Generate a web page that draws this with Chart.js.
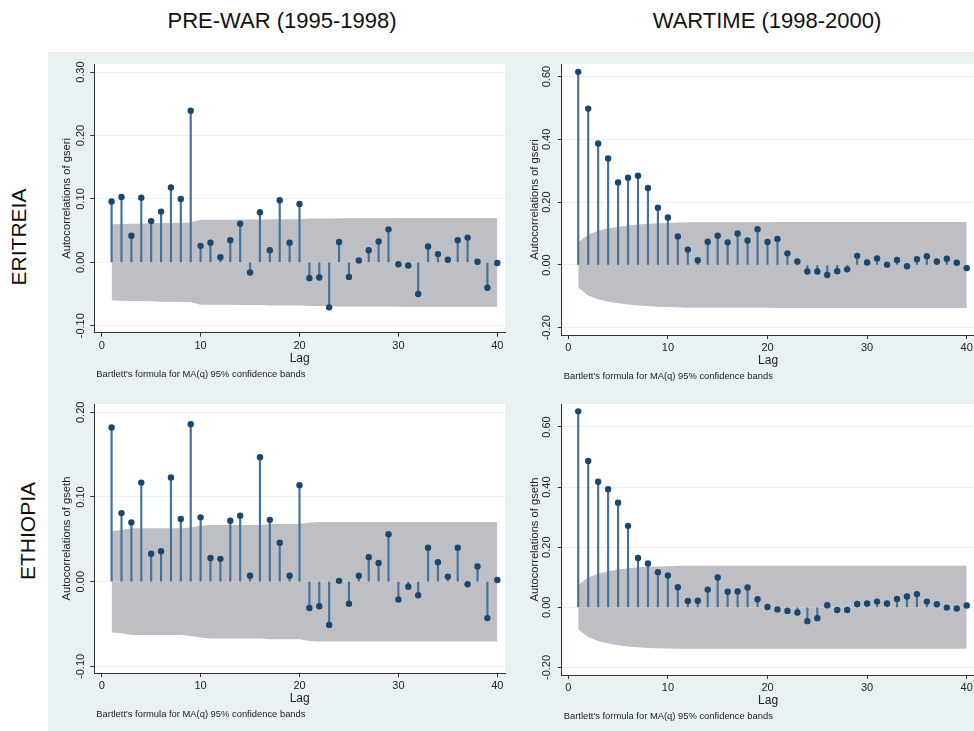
<!DOCTYPE html>
<html>
<head>
<meta charset="utf-8">
<script src="https://cdn.jsdelivr.net/npm/chart.js@4.4.0/dist/chart.umd.min.js"></script>
<style>
html, body { margin: 0; padding: 0; background: #fff; overflow: hidden; width: 974px; height: 731px; }
body { position: relative; font-family: "Liberation Sans", Arial, sans-serif; }
#bg { position: absolute; left: 48px; top: 52px; width: 926px; height: 679px; background: #e9f1f2; }
canvas { position: absolute; }
.coltitle { position: absolute; top: 10px; font-size: 22px; line-height: 22px; color: #111; white-space: nowrap; transform: translateX(-50%); }
.rowlabel { position: absolute; font-size: 21px; line-height: 21px; color: #111; white-space: nowrap; transform: translate(-50%, -50%) rotate(-90deg); }
</style>
</head>
<body>
<div id="bg"></div>
<div class="coltitle" style="left:282px">PRE-WAR (1995-1998)</div>
<div class="coltitle" style="left:767px">WARTIME (1998-2000)</div>
<div class="rowlabel" style="left:18px;top:237px">ERITREIA</div>
<div class="rowlabel" style="left:27px;top:531px">ETHIOPIA</div>
<canvas id="eriPre" width="462" height="338" style="left:48px;top:52px"></canvas>
<canvas id="eriWar" width="490" height="338" style="left:510px;top:52px"></canvas>
<canvas id="ethPre" width="462" height="341" style="left:48px;top:390px"></canvas>
<canvas id="ethWar" width="490" height="341" style="left:510px;top:390px"></canvas>
<script>
// lags 1..40
const lags = [1,2,3,4,5,6,7,8,9,10,11,12,13,14,15,16,17,18,19,20,
              21,22,23,24,25,26,27,28,29,30,31,32,33,34,35,36,37,38,39,40];

// autocorrelations
const acfEritreaPre = [0.096,0.103,0.042,0.102,0.065,0.080,0.118,0.100,0.239,0.026,
                       0.031,0.008,0.035,0.061,-0.016,0.079,0.019,0.098,0.031,0.092,
                       -0.025,-0.024,-0.071,0.032,-0.023,0.003,0.019,0.033,0.052,-0.003,
                       -0.005,-0.050,0.025,0.013,0.004,0.035,0.039,0.001,-0.040,-0.001];
const acfEritreaWar = [0.615,0.498,0.387,0.339,0.263,0.278,0.284,0.245,0.182,0.151,
                       0.091,0.049,0.015,0.074,0.093,0.072,0.100,0.078,0.114,0.073,
                       0.083,0.037,0.011,-0.021,-0.021,-0.032,-0.020,-0.014,0.029,0.008,
                       0.021,0.001,0.016,-0.004,0.018,0.028,0.011,0.020,0.007,-0.010];
const acfEthiopiaPre = [0.182,0.081,0.070,0.117,0.033,0.036,0.123,0.074,0.186,0.076,
                        0.028,0.027,0.072,0.078,0.007,0.147,0.073,0.046,0.007,0.114,
                        -0.031,-0.029,-0.051,0.001,-0.026,0.007,0.029,0.022,0.056,-0.021,
                        -0.006,-0.016,0.040,0.023,0.006,0.040,-0.003,0.018,-0.043,0.002];
const acfEthiopiaWar = [0.652,0.487,0.418,0.393,0.348,0.271,0.164,0.146,0.117,0.106,
                        0.067,0.021,0.022,0.059,0.099,0.052,0.053,0.066,0.027,0.001,
                        -0.007,-0.012,-0.017,-0.046,-0.036,0.007,-0.009,-0.009,0.011,0.013,
                        0.019,0.013,0.028,0.036,0.044,0.019,0.010,-0.001,-0.004,0.006];

// half-width of the 95% band (symmetric around zero)
const bandEritreaPre = [0.060,0.0605,0.061,0.061,0.0615,0.062,0.062,0.0625,0.063,0.067,
                        0.067,0.067,0.067,0.0675,0.0675,0.0675,0.068,0.068,0.068,0.068,
                        0.069,0.069,0.069,0.0695,0.0695,0.0695,0.0695,0.0695,0.0695,0.070,
                        0.070,0.070,0.070,0.070,0.070,0.070,0.070,0.070,0.070,0.070];
const bandEritreaWar = [0.072,0.097,0.109,0.117,0.122,0.126,0.129,0.131,0.133,0.134,
                        0.135,0.136,0.136,0.136,0.136,0.136,0.136,0.136,0.136,0.136,
                        0.137,0.137,0.137,0.137,0.137,0.137,0.137,0.137,0.137,0.137,
                        0.137,0.137,0.137,0.137,0.137,0.137,0.137,0.137,0.137,0.137];
const bandEthiopiaPre = [0.060,0.061,0.063,0.063,0.063,0.063,0.063,0.063,0.064,0.066,
                         0.067,0.067,0.067,0.067,0.067,0.067,0.068,0.068,0.068,0.068,
                         0.070,0.0705,0.0705,0.0705,0.0705,0.0705,0.0705,0.0705,0.0705,0.0705,
                         0.0705,0.0705,0.0705,0.0705,0.0705,0.0705,0.0705,0.0705,0.0705,0.0705];
const bandEthiopiaWar = [0.074,0.099,0.112,0.120,0.126,0.130,0.133,0.135,0.136,0.137,
                         0.138,0.138,0.138,0.138,0.138,0.138,0.138,0.138,0.138,0.138,
                         0.138,0.138,0.138,0.138,0.138,0.138,0.138,0.138,0.138,0.138,
                         0.138,0.138,0.138,0.138,0.138,0.138,0.138,0.138,0.138,0.138];

const lagTicks = [0, 10, 20, 30, 40];
const yTicksEritreaPre = [-0.1, 0, 0.1, 0.2, 0.3];
const yLabelsEritreaPre = ['-0.10', '0.00', '0.10', '0.20', '0.30'];
const yTicksEthiopiaPre = [-0.1, 0, 0.1, 0.2];
const yLabelsEthiopiaPre = ['-0.10', '0.00', '0.10', '0.20'];
const yTicksWar = [-0.2, 0, 0.2, 0.4, 0.6];
const yLabelsWar = ['-0.20', '0.00', '0.20', '0.40', '0.60'];

const noteText = "Bartlett's formula for MA(q) 95% confidence bands";
const FONT = '"Liberation Sans", Arial, sans-serif';

// background, white plot region, rotated y labels and the note
const stataDecor = {
    id: 'stataDecor',
    beforeDraw(chart) {
        const {ctx, chartArea: a, width, height} = chart;
        ctx.save();
        ctx.fillStyle = '#e9f1f2';
        ctx.fillRect(0, 0, width, height);
        ctx.fillStyle = '#ffffff';
        ctx.fillRect(a.left, a.top, a.right - a.left, a.bottom - a.top);
        ctx.restore();
    },
    afterDraw(chart, args, opts) {
        const {ctx, chartArea: a} = chart;
        const ys = chart.scales.y;
        ctx.save();
        ctx.fillStyle = '#222';
        ctx.font = '11px ' + FONT;
        ctx.textAlign = 'center';
        ctx.textBaseline = 'middle';
        opts.ticks.forEach((v, i) => {
            ctx.save();
            ctx.translate(a.left - opts.gap, ys.getPixelForValue(v));
            ctx.rotate(-Math.PI / 2);
            ctx.fillText(opts.labels[i], 0, 0);
            ctx.restore();
        });
        ctx.font = '9.4px ' + FONT;
        ctx.textAlign = 'left';
        ctx.fillText(noteText, a.left + 2, a.bottom + 41.3);
        ctx.restore();
    }
};

function makePanel(canvasId, acf, band, yTicks, yLabels, yTitle, box) {
    const ctx = document.getElementById(canvasId).getContext('2d');
    const pts = lags.map((l, i) => ({ x: l, y: acf[i] }));
    const hi = lags.map((l, i) => ({ x: l, y: band[i] }));
    const lo = lags.map((l, i) => ({ x: l, y: -band[i] }));
    const xTitleLh = 12 * 1.2, yTitleLh = 11.2 * 1.2;

    return new Chart(ctx, {
        type: 'scatter',
        data: {
            datasets: [
                { type: 'scatter', data: pts, pointRadius: 3.2, pointBackgroundColor: '#1a476f',
                  pointBorderWidth: 0, order: 0 },
                { type: 'bar', data: pts, backgroundColor: '#46729a', barThickness: 1.5,
                  borderWidth: 0, order: 1 },
                { type: 'line', data: hi, fill: 'origin', backgroundColor: '#bebfc4',
                  borderWidth: 0, pointRadius: 0, tension: 0, order: 2 },
                { type: 'line', data: lo, fill: 'origin', backgroundColor: '#bebfc4',
                  borderWidth: 0, pointRadius: 0, tension: 0, order: 3 }
            ]
        },
        options: {
            responsive: false,
            animation: false,
            events: [],
            layout: { padding: { left: 0, top: box.T, right: box.w - box.R, bottom: 0 } },
            plugins: {
                legend: { display: false },
                tooltip: { enabled: false },
                stataDecor: { ticks: yTicks, labels: yLabels, gap: box.gap }
            },
            scales: {
                x: {
                    type: 'linear',
                    min: box.xMin, max: box.xMax,
                    offset: false,
                    afterBuildTicks: s => { s.ticks = lagTicks.map(v => ({ value: v })); },
                    afterFit: s => { s.height = box.h - box.B; },
                    grid: { drawOnChartArea: false, drawTicks: true, tickLength: 4, tickColor: '#333', offset: false },
                    border: { color: '#333', width: 1 },
                    ticks: { padding: 2.4, autoSkip: false, maxRotation: 0, color: '#222',
                             font: { family: FONT, size: 11 } },
                    title: { display: true, text: 'Lag', color: '#222', font: { family: FONT, size: 12 },
                             padding: { top: 0, bottom: (box.h - box.B) - 26 - xTitleLh / 2 } }
                },
                y: {
                    type: 'linear',
                    min: box.yMin, max: box.yMax,
                    afterBuildTicks: s => { s.ticks = yTicks.map(v => ({ value: v })); },
                    afterFit: s => { s.width = box.L; },
                    grid: { color: '#eaf2f3', lineWidth: 1, tickLength: 4, tickColor: '#333' },
                    border: { color: '#333', width: 1 },
                    ticks: { display: false },
                    title: { display: true, text: yTitle, color: '#222', font: { family: FONT, size: 11.2 },
                             padding: { top: box.L - 27.2 - yTitleLh / 2, bottom: 0 } }
                }
            }
        },
        plugins: [stataDecor]
    });
}

makePanel('eriPre', acfEritreaPre, bandEritreaPre, yTicksEritreaPre, yLabelsEritreaPre,
    'Autocorrelations of gseri',
    { w: 462, h: 338, L: 46.3, T: 12, R: 457, B: 280.7, gap: 13,
      xMin: -0.75, xMax: 40.78, yMin: -0.111, yMax: 0.3128 });
makePanel('eriWar', acfEritreaWar, bandEritreaWar, yTicksWar, yLabelsWar,
    'Autocorrelations of gseri',
    { w: 490, h: 338, L: 51.7, T: 12, R: 464.5, B: 283, gap: 14.4,
      xMin: -0.66, xMax: 40.78, yMin: -0.223, yMax: 0.640 });
makePanel('ethPre', acfEthiopiaPre, bandEthiopiaPre, yTicksEthiopiaPre, yLabelsEthiopiaPre,
    'Autocorrelations of gseth',
    { w: 462, h: 341, L: 46.3, T: 14, R: 457, B: 283, gap: 13,
      xMin: -0.75, xMax: 40.78, yMin: -0.1078, yMax: 0.2098 });
makePanel('ethWar', acfEthiopiaWar, bandEthiopiaWar, yTicksWar, yLabelsWar,
    'Autocorrelations of gseth',
    { w: 490, h: 341, L: 51.7, T: 14, R: 464.5, B: 285, gap: 14.4,
      xMin: -0.66, xMax: 40.78, yMin: -0.2252, yMax: 0.6765 });
</script>
</body>
</html>
